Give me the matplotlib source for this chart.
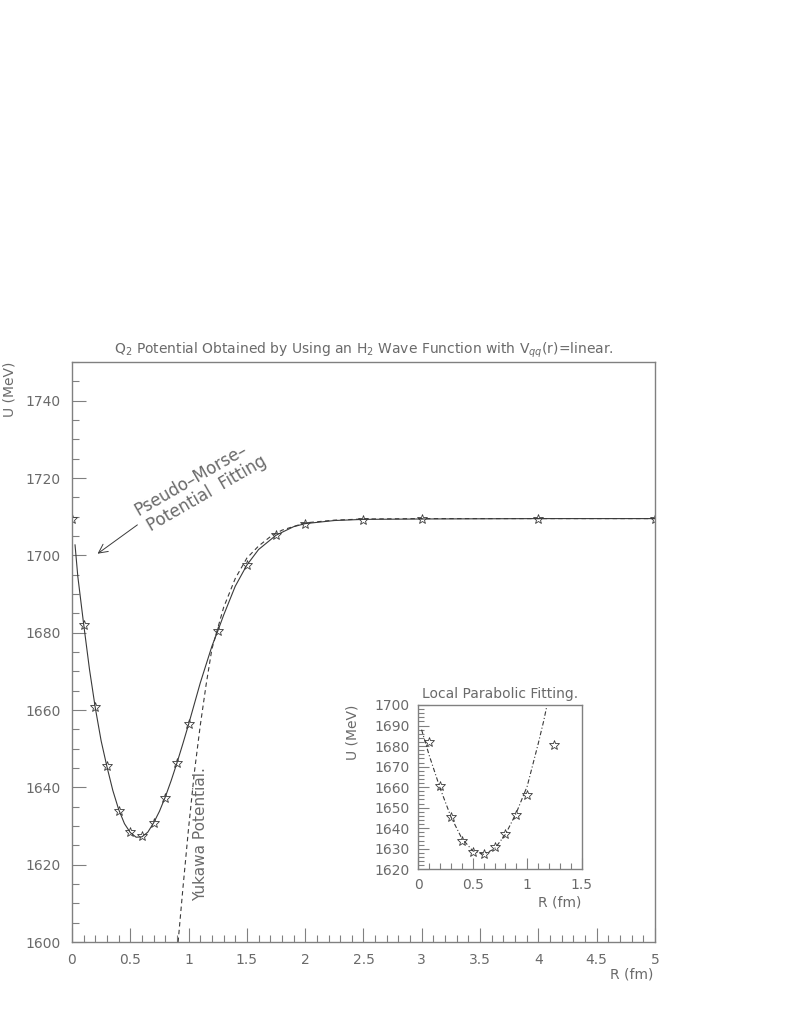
import numpy as np
import matplotlib
matplotlib.use("Agg")
import matplotlib.pyplot as plt
from matplotlib.ticker import MultipleLocator

# star points: computed Q2 potential
r_pts = [0, 0.1, 0.2, 0.3, 0.4, 0.5, 0.6, 0.7, 0.8, 0.9, 1.0, 1.25, 1.5, 1.75, 2.0, 2.5, 3.0, 4.0, 5.0]
u_pts = [1709.5, 1682.1, 1660.7, 1645.6, 1634.0, 1628.4, 1627.5, 1630.7, 1637.3, 1646.2, 1656.4,
         1680.4, 1697.4, 1705.3, 1708.2, 1709.2, 1709.3, 1709.3, 1709.3]

# pseudo-Morse fit (solid)
r_morse = [0.026, 0.05, 0.1, 0.15, 0.2, 0.25, 0.3, 0.35, 0.4, 0.45, 0.5, 0.55, 0.6, 0.65, 0.7,
           0.75, 0.8, 0.85, 0.9, 0.95, 1.0, 1.1, 1.2, 1.25, 1.3, 1.4, 1.5, 1.6, 1.75, 1.9,
           2.0, 2.25, 2.5, 3.0, 4.0, 5.0]
u_morse = [1702.7, 1694.5, 1682.2, 1670.5, 1660.5, 1652.0, 1645.3, 1639.2, 1634.3, 1630.6,
           1628.3, 1627.1, 1627.2, 1628.4, 1630.8, 1633.8, 1637.5, 1641.7, 1646.3, 1651.2,
           1656.3, 1667.0, 1676.5, 1680.4, 1684.5, 1692.0, 1697.5, 1701.5, 1705.2, 1707.4,
           1708.2, 1709.0, 1709.3, 1709.4, 1709.5, 1709.5]

# Yukawa potential (dashed)
r_yuk = [0.91, 0.95, 1.0, 1.05, 1.1, 1.15, 1.2, 1.3, 1.4, 1.5, 1.6, 1.7, 1.8, 2.0, 2.25, 2.5, 3.0, 5.0]
u_yuk = [1600.0, 1613.5, 1629.5, 1644.0, 1656.0, 1666.5, 1675.8, 1686.5, 1694.0, 1699.3,
         1702.4, 1704.8, 1706.5, 1708.4, 1709.1, 1709.4, 1709.5, 1709.5]

# local parabolic fit (inset, dash-dot)
r_par = [0.03, 0.1, 0.2, 0.3, 0.4, 0.5, 0.6, 0.7, 0.8, 0.9, 1.0, 1.1, 1.15, 1.18]
u_par = [1688.0, 1675.5, 1659.5, 1645.5, 1635.0, 1629.0, 1627.3, 1630.0, 1637.0, 1647.5,
         1660.5, 1681.0, 1692.0, 1699.5]

GRAY = '#6a6a6a'
LINE = '#3a3a3a'
plt.rcParams['font.family'] = ['DejaVu Sans']


def style_axes(ax, xmaj, xmin, ymaj, ymin, fs):
    for sp in ax.spines.values():
        sp.set_color('#808080')
        sp.set_linewidth(1.0)
    ax.xaxis.set_major_locator(MultipleLocator(xmaj))
    ax.xaxis.set_minor_locator(MultipleLocator(xmin))
    ax.yaxis.set_major_locator(MultipleLocator(ymaj))
    ax.yaxis.set_minor_locator(MultipleLocator(ymin))
    ax.tick_params(which='both', direction='in', top=False, right=False,
                   color='#808080', labelcolor=GRAY, labelsize=fs)
    ax.tick_params(which='major', length=10, width=0.8, pad=8)
    ax.tick_params(which='minor', length=5, width=0.8)


fig = plt.figure(figsize=(7.85, 10.15), dpi=100)
ax = fig.add_axes([72 / 785, 1 - 942 / 1015, 583 / 785, 580 / 1015])

ax.plot(r_morse, u_morse, '-', color=LINE, lw=0.8)
ax.plot(r_yuk, u_yuk, '--', color=LINE, lw=0.8, dashes=(4, 3))
ax.plot(r_pts, u_pts, '*', ms=7, mfc='none', mec=LINE, mew=0.6)

ax.set_xlim(0, 5)
ax.set_ylim(1600, 1750)
style_axes(ax, 0.5, 0.1, 20, 5, 10)
ax.set_xticks([0, 0.5, 1, 1.5, 2, 2.5, 3, 3.5, 4, 4.5, 5])
ax.set_xticklabels(['0', '0.5', '1', '1.5', '2', '2.5', '3', '3.5', '4', '4.5', '5'])

ax.set_title(r'Q$_2$ Potential Obtained by Using an H$_2$ Wave Function with V$_{qq}$(r)=linear.',
             fontsize=10, color=GRAY, pad=6)
fig.text(10 / 785, 1 - 362 / 1015, 'U (MeV)', rotation=90, ha='center', va='top',
         fontsize=10, color=GRAY)
fig.text(653 / 785, 1 - 975 / 1015, 'R (fm)', ha='right', va='center',
         fontsize=10, color=GRAY)

# annotations
ax.text(0.569, 1710.2, 'Pseudo\u2013Morse\u2013', rotation=30, rotation_mode='anchor',
        ha='left', va='baseline', fontsize=12, color=GRAY)
ax.text(0.675, 1706.1, 'Potential  Fitting', rotation=30, rotation_mode='anchor',
        ha='left', va='baseline', fontsize=12, color=GRAY)
ax.annotate('', xy=(0.2, 1700), xytext=(0.58, 1708.3),
            arrowprops=dict(arrowstyle='->', lw=0.7, color=LINE, mutation_scale=16))
ax.text(1.1, 1628, 'Yukawa Potential.', rotation=90, ha='center', va='center',
        fontsize=11, color=GRAY)

# inset
ins = fig.add_axes([418.3 / 785, 1 - 869.3 / 1015, 163.4 / 785, 164.3 / 1015])
r_arr = np.array(r_pts)
u_arr = np.array(u_pts)
sel = (r_arr > 0) & (r_arr <= 1.25)
ins.plot(r_par, u_par, '-.', color=LINE, lw=0.8, dashes=(4, 2, 1, 2))
ins.plot(r_arr[sel], u_arr[sel], '*', ms=7, mfc='none', mec=LINE, mew=0.6)
ins.set_xlim(0, 1.5)
ins.set_ylim(1620, 1700)
style_axes(ins, 0.5, 0.1, 10, 2, 10)
ins.tick_params(which='major', length=8, pad=6)
ins.tick_params(which='minor', length=4)
ins.set_xticks([0, 0.5, 1, 1.5])
ins.set_xticklabels(['0', '0.5', '1', '1.5'])
ins.set_title('Local Parabolic Fitting.', fontsize=10, color=GRAY, pad=5)
fig.text(353 / 785, 1 - 705 / 1015, 'U (MeV)', rotation=90, ha='center', va='top',
         fontsize=10, color=GRAY)
fig.text(581 / 785, 1 - 903 / 1015, 'R (fm)', ha='right', va='center',
         fontsize=10, color=GRAY)

fig.savefig('out.png', dpi=100)
